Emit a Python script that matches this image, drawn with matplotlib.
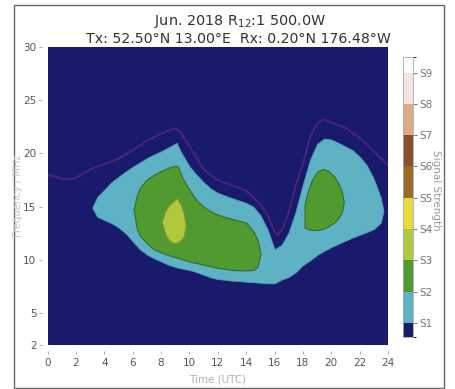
import matplotlib
matplotlib.use("Agg")
import matplotlib.pyplot as plt
from matplotlib.colors import ListedColormap, BoundaryNorm
from matplotlib.cm import ScalarMappable
from matplotlib.patches import Rectangle

# ---- signal-strength regions (frequency bands in MHz versus UTC hour) ----
# S1 level (S1..S2 band, outer region)
s1_t = [3.15, 3.5, 4.0, 4.5, 5.0, 5.5, 6.0, 6.5, 7.0, 7.5, 8.0, 8.5, 9.1, 9.4,
        10.0, 10.5, 11.0, 11.5, 12.0, 13.0, 14.0, 14.5, 15.0, 15.5, 16.0, 16.5,
        17.0, 17.5, 18.0, 18.5, 19.0, 19.5, 20.0, 20.5, 21.0, 21.5, 22.0, 22.5,
        23.0, 23.5, 23.68]
s1_lo = [14.9, 14.05, 13.75, 13.45, 13.05, 12.5, 11.75, 11.0, 10.5, 10.15, 9.85,
         9.55, 9.3, 9.2, 9.05, 8.85, 8.6, 8.35, 8.2, 8.05, 7.95, 7.9, 7.85, 7.8,
         7.8, 8.15, 8.4, 8.85, 9.5, 9.95, 10.45, 10.85, 11.2, 11.5, 11.8, 12.1,
         12.35, 12.6, 12.9, 13.5, 14.6]
s1_hi = [14.9, 15.9, 16.6, 17.3, 17.8, 18.3, 18.75, 19.15, 19.55, 19.9, 20.2,
         20.55, 21.0, 20.15, 18.8, 18.0, 17.3, 16.7, 16.3, 15.8, 15.35, 15.0,
         14.2, 12.9, 11.0, 11.4, 12.6, 14.6, 17.1, 19.4, 20.9, 21.4, 21.3, 21.0,
         20.65, 20.3, 19.7, 18.9, 17.6, 15.8, 14.6]

# S2 level, morning/midday region
s2a_t = [6.07, 6.3, 6.5, 7.0, 7.5, 8.0, 8.5, 9.0, 9.2, 9.5, 10.0, 10.5, 11.0,
         11.5, 12.0, 13.0, 14.0, 14.5, 14.8, 15.02]
s2a_lo = [14.7, 12.9, 12.3, 11.55, 11.0, 10.7, 10.45, 10.25, 10.2, 10.05, 9.85,
          9.7, 9.55, 9.4, 9.25, 9.05, 9.0, 9.05, 9.35, 10.6]
s2a_hi = [14.7, 16.1, 16.75, 17.55, 18.0, 18.35, 18.65, 18.85, 18.75, 17.7,
          16.6, 15.6, 15.0, 14.55, 14.25, 13.85, 13.5, 12.7, 11.9, 10.6]

# S2 level, evening region
s2b_t = [18.12, 18.3, 18.6, 19.0, 19.4, 19.8, 20.2, 20.5, 20.75, 20.88]
s2b_lo = [13.05, 12.9, 12.8, 12.8, 12.9, 13.15, 13.5, 13.9, 14.5, 15.4]
s2b_hi = [15.2, 16.2, 17.4, 18.3, 18.55, 18.35, 17.85, 17.2, 16.4, 15.4]

# S3 level
s3_t = [8.05, 8.3, 8.6, 8.9, 9.1, 9.4, 9.6, 9.75]
s3_lo = [13.6, 12.4, 11.8, 11.55, 11.6, 11.85, 12.2, 13.2]
s3_hi = [13.6, 14.6, 15.2, 15.55, 15.8, 15.2, 14.4, 13.2]

# maximum usable frequency curve
muf_t = [0, 1, 1.5, 2, 2.5, 3, 4, 5, 6, 7, 8, 8.9, 9.3, 10, 11, 12, 13, 14, 15,
         15.5, 16, 16.2, 16.6, 17, 17.5, 18, 18.5, 19, 19.5, 20, 21, 22, 23, 24]
muf_f = [18.0, 17.65, 17.55, 17.7, 18.1, 18.5, 19.0, 19.5, 20.3, 21.2, 21.85,
         22.35, 22.1, 20.7, 18.5, 17.5, 17.0, 16.5, 15.2, 14.2, 12.7, 12.3,
         13.0, 14.5, 17.0, 19.0, 21.5, 22.8, 23.2, 22.9, 22.4, 21.5, 20.2, 18.9]

x_ticks = list(range(0, 25, 2))
y_ticks = [2, 5, 10, 15, 20, 25, 30]
s_bounds = [0.55, 1, 2, 3, 4, 5, 6, 7, 8, 9, 9.5]
s_labels = ["S1", "S2", "S3", "S4", "S5", "S6", "S7", "S8", "S9"]
s_colors = ["#1a1a6c", "#5fb2c4", "#519a2f", "#b0c83e", "#e6dd3c", "#9c6a28",
            "#87502e", "#dcab88", "#f5e3df", "#ffffff"]

NAVY, CYAN, GREEN, LIME = s_colors[0], s_colors[1], s_colors[2], s_colors[3]
TICK_TXT = "#555555"

fig = plt.figure(figsize=(4.56, 3.89), dpi=100)
fig.patch.set_facecolor("white")

ax = fig.add_axes([0.1042, 0.1131, 0.7467, 0.7661])
ax.set_facecolor(NAVY)
ax.set_xlim(0, 24)
ax.set_ylim(2, 30)

ax.fill_between(s1_t, s1_lo, s1_hi, facecolor=CYAN, edgecolor="#4a9db3",
                linewidth=0.6, zorder=2)
ax.fill_between(s2a_t, s2a_lo, s2a_hi, facecolor=GREEN, edgecolor="#2f6e2c",
                linewidth=0.8, zorder=3)
ax.fill_between(s2b_t, s2b_lo, s2b_hi, facecolor=GREEN, edgecolor="#2f6e2c",
                linewidth=0.8, zorder=3)
ax.fill_between(s3_t, s3_lo, s3_hi, facecolor=LIME, edgecolor="#789a2c",
                linewidth=0.8, zorder=4)
ax.plot(muf_t, muf_f, color="#5a2878", linewidth=1.3, alpha=0.8, zorder=5)

for side in ("top", "right", "bottom", "left"):
    ax.spines[side].set_visible(False)
ax.spines["bottom"].set_position(("outward", 4))
ax.spines["left"].set_position(("outward", 4))

ax.set_xticks(x_ticks)
ax.set_yticks(y_ticks)
ax.tick_params(axis="both", direction="out", length=2.5, width=0.7,
               color="#aaaaaa", labelcolor=TICK_TXT, labelsize=7.5)
ax.tick_params(axis="x", pad=3)
ax.tick_params(axis="y", pad=1.5)

# colour bar
cax = fig.add_axes([0.8838, 0.1337, 0.0219, 0.7198])
cmap = ListedColormap(s_colors)
norm = BoundaryNorm(s_bounds, cmap.N)
cb = fig.colorbar(ScalarMappable(norm=norm, cmap=cmap), cax=cax,
                  ticks=list(range(1, 10)), spacing="proportional")
cb.ax.set_yticklabels(s_labels)
cb.ax.tick_params(length=3, width=0.7, color="#777777", labelcolor="#777777",
                  labelsize=7.5, pad=1.5)
cb.outline.set_edgecolor("#aaaaaa")
cb.outline.set_linewidth(0.6)

fig.text(436.5 / 456, 1 - 190 / 389, "Signal Strength", rotation=270,
         ha="center", va="center", fontsize=7.5, color="#999999")

# titles and axis labels
fig.text(240 / 456, 1 - 22 / 389, r"Jun. 2018 R$_{12}$:1 500.0W",
         ha="center", va="center", fontsize=10.4, color="#333333")
fig.text(238.5 / 456, 1 - 39 / 389,
         "Tx: 52.50\u00b0N 13.00\u00b0E  Rx: 0.20\u00b0N 176.48\u00b0W",
         ha="center", va="center", fontsize=10.2, color="#333333")
fig.text(18.5 / 456, 1 - 196 / 389, "Frequency / MHz", rotation=90,
         ha="center", va="center", fontsize=7.2, color="#c4c4c4")
fig.text(217.5 / 456, 1 - 380 / 389, "Time (UTC)", ha="center", va="center",
         fontsize=7.5, color="#b0b0b0")

# outer frame
fig.patches.append(Rectangle((14 / 456, 1 / 389), 430 / 456, 383 / 389,
                             transform=fig.transFigure, fill=False,
                             edgecolor="#666666", linewidth=1.0))

fig.savefig("out.png", dpi=100)
